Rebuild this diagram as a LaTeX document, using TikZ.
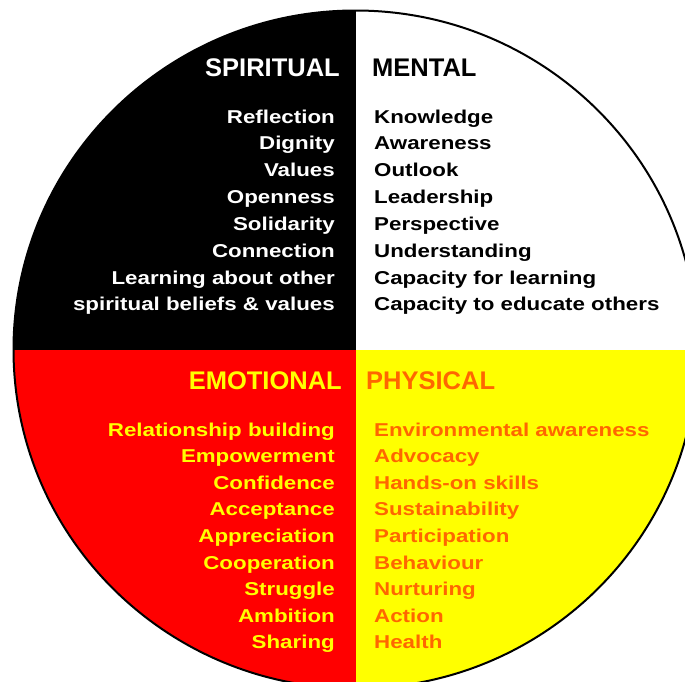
\documentclass[tikz,border=0pt]{standalone}
\usepackage{fontspec}
\setmainfont{Liberation Sans}
\newfontfamily\hdrfont{Liberation Sans}
\newfontfamily\itmfont[FakeStretch=1.2]{Liberation Sans}
\definecolor{wheelred}{RGB}{255,0,0}
\definecolor{wheelyellow}{RGB}{255,255,0}
\definecolor{physorange}{RGB}{255,102,0}
\tikzset{
  hdr/.style={inner sep=0pt, font=\hdrfont\fontsize{25.5}{27}\selectfont\bfseries},
  itm/.style={inner sep=0pt, font=\itmfont\fontsize{18.6}{20}\selectfont\bfseries},
  lcol/.style={anchor=base east},
  rcol/.style={anchor=base west},
}
\begin{document}
\begin{tikzpicture}[x=1pt,y=-1pt]
\useasboundingbox (0,0) rectangle (685,681);
\clip (0,0) rectangle (685,681);
\coordinate (c) at (355.5,349.5);
\begin{scope}
  \clip (c) ellipse [x radius=342, y radius=339];
  \fill[black] (c) rectangle (0,0);
  \fill[white] (c) rectangle (720,0);
  \fill[wheelred] (c) rectangle (0,720);
  \fill[wheelyellow] (c) rectangle (720,720);
\end{scope}
\draw[black, line width=2pt] (c) ellipse [x radius=342, y radius=339];

\node[hdr, lcol, text=white] (spiritual) at (340,76) {SPIRITUAL};
\node[hdr, rcol, text=black] (mental) at (372,76) {MENTAL};
\node[hdr, lcol, text=wheelyellow] (emotional) at (342,389) {EMOTIONAL};
\node[hdr, rcol, text=physorange] (physical) at (366,389) {PHYSICAL};

\foreach \t [count=\i from 0] in {Reflection,Dignity,Values,Openness,Solidarity,Connection,Learning about other,spiritual beliefs \& values}
  \node[itm, lcol, text=white] (sp\i) at (335,123+26.85*\i) {\t};
\foreach \t [count=\i from 0] in {Knowledge,Awareness,Outlook,Leadership,Perspective,Understanding,Capacity for learning,Capacity to educate others}
  \node[itm, rcol, text=black] (me\i) at (374,123+26.85*\i) {\t};
\foreach \t [count=\i from 0] in {Relationship building,Empowerment,Confidence,Acceptance,Appreciation,Cooperation,Struggle,Ambition,Sharing}
  \node[itm, lcol, text=wheelyellow] (em\i) at (335,436+26.6*\i) {\t};
\foreach \t [count=\i from 0] in {Environmental awareness,Advocacy,Hands-on skills,Sustainability,Participation,Behaviour,Nurturing,Action,Health}
  \node[itm, rcol, text=physorange] (ph\i) at (374,436+26.6*\i) {\t};
\end{tikzpicture}
\end{document}
